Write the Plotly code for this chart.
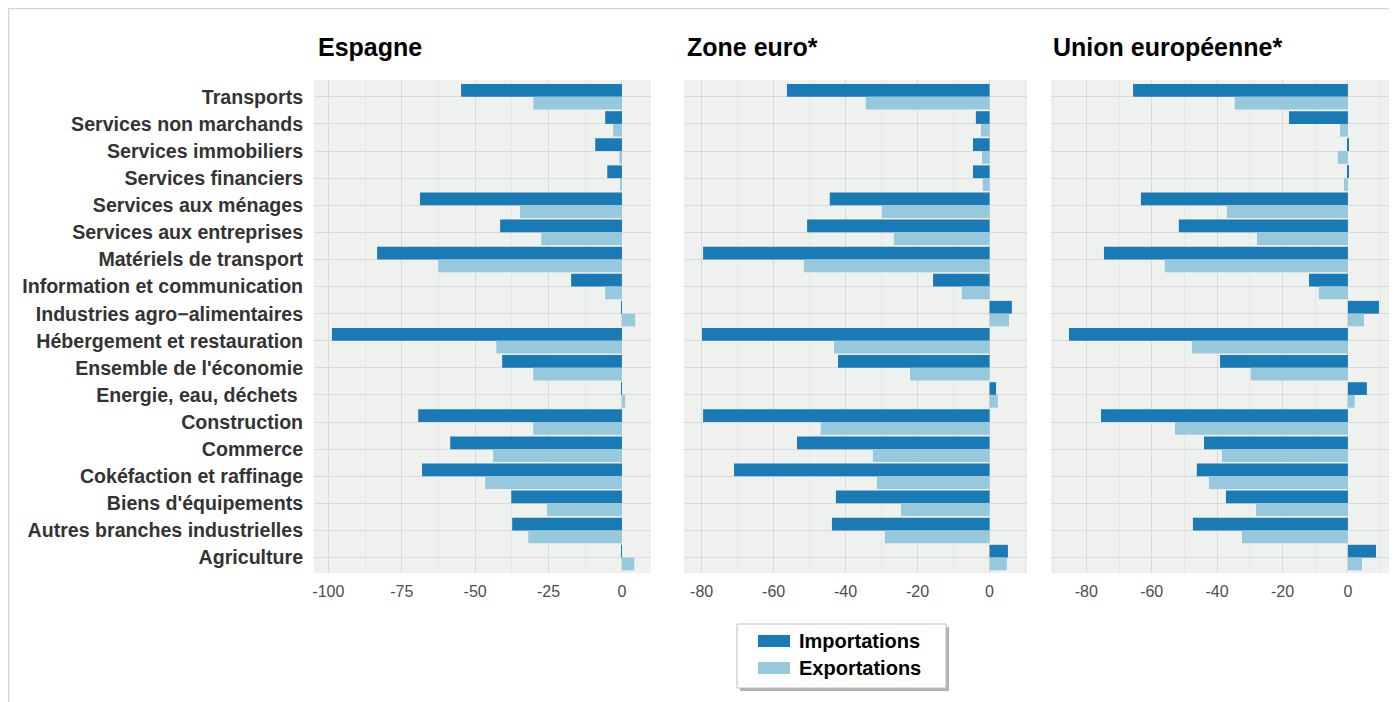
import plotly.graph_objects as go

# ---------------- data ----------------
categories = [
    "Transports", "Services non marchands", "Services immobiliers", "Services financiers",
    "Services aux ménages", "Services aux entreprises", "Matériels de transport",
    "Information et communication", "Industries agro\u2212alimentaires", "Hébergement et restauration",
    "Ensemble de l'économie", "Energie, eau, déchets ", "Construction", "Commerce",
    "Cokéfaction et raffinage", "Biens d'équipements", "Autres branches industrielles", "Agriculture",
]

panels = ["Espagne", "Zone euro*", "Union européenne*"]
series_names = ["Importations", "Exportations"]

esp_imp = [-54.8, -5.7, -9.1, -5.0, -68.8, -41.5, -83.4, -17.3, -0.1, -98.8, -40.8, -0.1, -69.4, -58.5, -68.1, -37.7, -37.4, -0.3]
esp_exp = [-30.2, -3.0, -0.9, -0.5, -34.7, -27.5, -62.6, -5.7, 4.5, -42.8, -30.2, 1.1, -30.2, -43.9, -46.6, -25.5, -31.9, 4.2]
ze_imp = [-56.3, -3.8, -4.6, -4.6, -44.4, -50.7, -79.6, -15.7, 6.2, -79.9, -42.1, 1.8, -79.6, -53.5, -71.0, -42.7, -43.8, 5.1]
ze_exp = [-34.4, -2.4, -2.1, -1.9, -29.9, -26.6, -51.6, -7.7, 5.4, -43.2, -22.1, 2.3, -46.9, -32.4, -31.3, -24.6, -29.1, 4.8]
ue_imp = [-65.7, -18.0, 0.2, 0.1, -63.3, -51.7, -74.6, -11.9, 9.5, -85.3, -39.1, 5.8, -75.5, -44.0, -46.2, -37.3, -47.4, 8.6]
ue_exp = [-34.6, -2.4, -3.1, -1.2, -37.0, -27.8, -56.0, -8.9, 4.9, -47.7, -29.7, 2.1, -52.9, -38.5, -42.5, -28.1, -32.4, 4.3]

esp_ticks = [-100, -75, -50, -25, 0]
ze_ticks = [-80, -60, -40, -20, 0]
ue_ticks = [-80, -60, -40, -20, 0]

# ---------------- styling ----------------
OFF = 8  # page body margin
W, H = 1389, 694
ML, MT = 314 - OFF, 80 - OFF
MR = W - (1394 - OFF)
MB = H - (573 - OFF)
PW, PH = W - ML - MR, H - MT - MB
C_IMP = "#1a7ab5"
C_EXP = "#98c8dc"
PANEL_BG = "#eff1ef"
GRID_MAJ = "#d9dbd9"
GRID_MIN = "#e5e7e5"
FONT = "Liberation Sans, Arial, Helvetica, sans-serif"


def px(x):
    """page pixel x -> paper coordinate"""
    return (x - OFF - ML) / PW


def py(y):
    """page pixel y -> paper coordinate"""
    return (H - MB - (y - OFF)) / PH


domains = [(314, 651), (684, 1027), (1051, 1394)]
ranges = [(-104.9, 9.9), (-84.9, 10.4), (-90.8, 14.1)]
ticks = [esp_ticks, ze_ticks, ue_ticks]
dticks = [25, 20, 20]
data = [(esp_imp, esp_exp), (ze_imp, ze_exp), (ue_imp, ue_exp)]

fig = go.Figure()
for i, (imp, exp) in enumerate(data):
    xa = "x" if i == 0 else f"x{i+1}"
    ya = "y" if i == 0 else f"y{i+1}"
    fig.add_trace(go.Bar(x=imp, y=categories, orientation="h", name=series_names[0],
                         marker=dict(color=C_IMP, line=dict(width=0)), width=0.47, offset=0.0,
                         xaxis=xa, yaxis=ya, showlegend=False))
    fig.add_trace(go.Bar(x=exp, y=categories, orientation="h", name=series_names[1],
                         marker=dict(color=C_EXP, line=dict(width=0)), width=0.47, offset=-0.47,
                         xaxis=xa, yaxis=ya, showlegend=False))

layout = dict(
    width=W, height=H, autosize=False,
    margin=dict(l=ML, r=MR, t=MT, b=MB, pad=0),
    paper_bgcolor="white", plot_bgcolor=PANEL_BG,
    barmode="overlay", showlegend=False,
    font=dict(family=FONT, color="#333333"),
)

ylabels = [c[:-1] + "\u00a0" if c.endswith(" ") else c for c in categories]
cat_order = list(reversed(categories))

for i in range(3):
    sx = "" if i == 0 else str(i + 1)
    d0, d1 = domains[i]
    layout[f"xaxis{sx}"] = dict(
        domain=[px(d0), px(d1)], range=list(ranges[i]), anchor=f"y{sx}",
        tickmode="array", tickvals=ticks[i], ticktext=[str(t) for t in ticks[i]],
        showgrid=True, gridcolor=GRID_MAJ, gridwidth=1.2, zeroline=False,
        minor=dict(showgrid=True, dtick=dticks[i] / 2, tick0=0, gridcolor=GRID_MIN, gridwidth=0.8),
        ticks="outside", ticklen=4, tickcolor="rgba(0,0,0,0)",
        tickfont=dict(family=FONT, size=16, color="#4d4d4d"),
        showline=False, fixedrange=True,
    )
    layout[f"yaxis{sx}"] = dict(
        domain=[0, 1], anchor=f"x{sx}", type="category",
        categoryorder="array", categoryarray=cat_order,
        range=[-0.57, 17.62],
        showgrid=True, gridcolor=GRID_MAJ, gridwidth=1.2, zeroline=False,
        showticklabels=(i == 0),
        tickmode="array", tickvals=categories, ticktext=ylabels,
        ticks="outside", ticklen=6, tickcolor="rgba(0,0,0,0)",
        tickfont=dict(family=FONT, size=19.6, color="#333333", weight="bold"),
        showline=False, fixedrange=True,
    )
    if i > 0:
        layout[f"yaxis{sx}"]["matches"] = "y"

fig.update_layout(**layout)

# panel titles
title_x = [316, 685, 1051]
for t, x in zip(panels, title_x):
    fig.add_annotation(text=f"<b>{t}</b>", xref="paper", yref="paper", x=px(x), y=py(47),
                       xanchor="left", yanchor="middle", showarrow=False,
                       font=dict(family=FONT, size=25, color="black"))

# outer frame
fig.add_shape(type="rect", xref="paper", yref="paper", x0=px(8.5), x1=px(1420), y0=py(8.5), y1=py(720),
              line=dict(color="#d4d4d4", width=1.5), fillcolor="rgba(0,0,0,0)", layer="below")

# custom legend
fig.add_shape(type="rect", xref="paper", yref="paper", x0=px(740), x1=px(949), y0=py(627), y1=py(691),
              line=dict(width=0), fillcolor="#b3b3b3", layer="above")
fig.add_shape(type="rect", xref="paper", yref="paper", x0=px(737), x1=px(946), y0=py(624), y1=py(688),
              line=dict(color="#bdbdbd", width=1), fillcolor="white", layer="above")
leg_y = [641, 668]
leg_c = [C_IMP, C_EXP]
for name, yc, col in zip(series_names, leg_y, leg_c):
    fig.add_shape(type="rect", xref="paper", yref="paper", x0=px(758), x1=px(790), y0=py(yc - 6),
                  y1=py(yc + 6), line=dict(width=0), fillcolor=col, layer="above")
    fig.add_annotation(text=f"<b>{name}</b>", xref="paper", yref="paper", x=px(797), y=py(yc),
                       xanchor="left", yanchor="middle", showarrow=False,
                       font=dict(family=FONT, size=20, color="black"))

fig.write_html("out.html")
